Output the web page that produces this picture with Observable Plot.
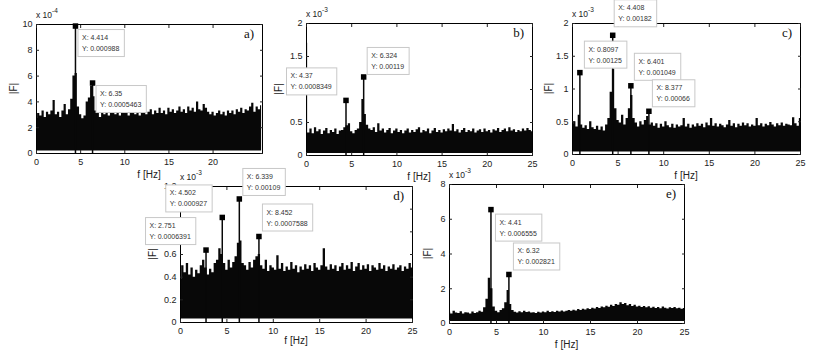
<!DOCTYPE html>
<html><head><meta charset="utf-8">
<script src="https://cdn.jsdelivr.net/npm/d3@7"></script>
<script src="https://cdn.jsdelivr.net/npm/@observablehq/plot@0.6"></script>
<style>
body{margin:0;background:#fff}
#fig{position:relative;width:815px;height:357px;overflow:hidden;background:#fff}
#fig svg{position:absolute;overflow:visible}
</style>
</head><body><div id="fig"></div>
<script>
// Frequency grid step of the envelope readings (Hz)
const fStep = 0.25;

// ---- panel a (x 10^-4) ----
const aEnv = [2.7,3.1,2.9,3.3, 2.8,3.2,3.0,3.3, 4.1,3.0,3.2,2.8, 3.3,3.8,3.0,3.4,
  4.2,6.0,6.2,3.6, 3.0,2.7,2.9,4.0, 4.3,5.2,4.4,3.3, 3.1,2.8,3.2,3.0, 3.3,2.9,3.1,3.4,
  3.0,3.2,2.9,3.6, 3.1,3.3,2.9,3.4, 3.2,3.0,3.3,2.9, 3.1,3.5,3.0,3.2, 3.4,3.0,3.3,3.1,
  3.5,3.1,3.3,3.0, 3.5,3.2,3.4,3.1, 3.3,3.6,3.2,3.4, 3.1,3.6,3.3,3.5, 3.2,4.0,3.4,3.3,
  3.8,3.5,3.2,3.0, 3.2,2.9,3.1,3.3, 3.0,3.2,2.9,3.3, 3.1,3.3,3.0,3.4, 3.2,3.5,3.1,3.4,
  3.3,3.6,3.9,3.2, 3.6,3.4,3.7];
const aFloor = 0.2;
const aPeakF = [4.414, 6.35];
const aPeakV = [0.000988, 0.0005463];

// ---- panel b (x 10^-3) ----
const bEnv = [1.7,0.34,0.40,0.33, 0.42,0.36,0.39,0.32, 0.37,0.41,0.33,0.38, 0.35,0.40,0.32,0.37,
  0.38,0.42,0.45,0.48, 0.36,0.33,0.38,0.40, 0.50,0.85,0.62,0.46, 0.40,0.38,0.42,0.35,
  0.48,0.37,0.40,0.34, 0.38,0.41,0.33,0.37, 0.40,0.35,0.38,0.33, 0.37,0.40,0.34,0.38,
  0.35,0.39,0.42,0.34, 0.38,0.36,0.40,0.33, 0.37,0.41,0.35,0.38, 0.34,0.39,0.36,0.40,
  0.37,0.47,0.36,0.39, 0.34,0.38,0.41,0.35, 0.38,0.36,0.40,0.34, 0.37,0.39,0.35,0.40,
  0.36,0.38,0.34,0.39, 0.37,0.41,0.35,0.38, 0.40,0.36,0.42,0.37, 0.39,0.35,0.38,0.36,
  0.40,0.37,0.41,0.38, 0.36];
const bFloor = 0.03;
const bPeakF = [4.37, 6.324];
const bPeakV = [0.0008349, 0.00119];

// ---- panel c (x 10^-3) ----
const cEnv = [0.46,0.50,0.42,0.60, 0.45,0.40,0.44,0.38, 0.50,0.41,0.38,0.43, 0.37,0.42,0.36,0.45,
  0.55,0.95,1.30,0.70, 0.52,0.48,0.60,0.45, 0.55,0.70,0.90,0.55, 0.48,0.42,0.50,0.45,
  0.52,0.58,0.45,0.48, 0.43,0.47,0.40,0.46, 0.42,0.50,0.44,0.41, 0.46,0.40,0.45,0.42,
  0.44,0.55,0.42,0.46, 0.40,0.45,0.42,0.47, 0.43,0.46,0.41,0.48, 0.44,0.55,0.43,0.47,
  0.42,0.46,0.44,0.41, 0.45,0.52,0.43,0.47, 0.41,0.46,0.43,0.48, 0.44,0.47,0.42,0.45,
  0.43,0.55,0.44,0.47, 0.42,0.46,0.44,0.49, 0.45,0.42,0.47,0.44, 0.48,0.43,0.46,0.45,
  0.44,0.56,0.47,0.43, 0.55];
const cFloor = 0.04;
const cPeakF = [0.8097, 4.408, 6.401, 8.377];
const cPeakV = [0.00125, 0.00182, 0.001049, 0.00066];

// ---- panel d (x 10^-3) ----
const dEnv = [0.38,0.50,0.44,0.52, 0.42,0.48,0.40,0.46, 0.43,0.50,0.55,0.48, 0.42,0.47,0.44,0.52,
  0.55,0.65,0.60,0.52, 0.46,0.55,0.48,0.53, 0.58,0.70,0.72,0.52, 0.50,0.46,0.53,0.48,
  0.55,0.58,0.60,0.50, 0.47,0.55,0.45,0.50, 0.48,0.46,0.59,0.47, 0.52,0.45,0.49,0.46,
  0.53,0.47,0.50,0.44, 0.49,0.46,0.51,0.47, 0.50,0.45,0.52,0.48, 0.46,0.50,0.65,0.49,
  0.46,0.51,0.47,0.50, 0.45,0.49,0.52,0.46, 0.50,0.47,0.53,0.45, 0.49,0.52,0.46,0.50,
  0.47,0.51,0.45,0.50, 0.48,0.46,0.52,0.47, 0.50,0.45,0.49,0.47, 0.51,0.46,0.48,0.50,
  0.45,0.49,0.47,0.52, 0.48];
const dFloor = 0.03;
const dPeakF = [2.751, 4.502, 6.339, 8.452];
const dPeakV = [0.0006391, 0.000927, 0.00109, 0.0007588];

// ---- panel e (x 10^-3) ----
const eEnv = [0.65,0.55,0.70,0.60, 0.58,0.68,0.55,0.62, 0.60,0.55,0.66,0.58, 0.62,0.70,0.65,0.90,
  1.40,2.60,2.00,0.95, 0.70,0.62,0.75,0.85, 1.20,1.90,1.10,0.75, 0.65,0.60,0.68,0.62,
  0.70,0.64,0.66,0.60, 0.62,0.58,0.65,0.60, 0.66,0.62,0.70,0.64, 0.68,0.63,0.70,0.66,
  0.72,0.66,0.70,0.75, 0.70,0.76,0.72,0.80, 0.75,0.82,0.78,0.85, 0.80,0.88,0.84,0.92,
  0.86,0.95,0.90,1.00, 0.94,1.05,0.98,1.10, 1.05,1.20,1.10,1.15, 1.02,1.10,0.98,1.05,
  0.95,1.00,0.92,0.98, 0.90,0.96,0.88,0.94, 0.86,0.92,0.85,0.95, 0.88,0.84,0.90,0.86,
  0.92,0.85,0.88,0.82, 0.86];
const eFloor = 0.12;
const ePeakF = [4.41, 6.32];
const ePeakV = [0.006555, 0.002821];

// ---- axes (tick positions, and the tick labels left visible in the figure) ----
const xTicksA = [0,5,10,15,20];
const xTicks = [0,5,10,15,20,25];
const yTicksA = [0,2,4,6,8,10];
const yTicksBC = [0,0.5,1,1.5,2];
const yLabelsB = [0,0.5,1.5,2];          // "1" is hidden behind a data tip
const yTicksD = [0,0.2,0.4,0.6,0.8,1,1.2];
const yLabelsD = [0,0.2,0.4,0.6,1.2];    // "0.8" and "1" are hidden behind data tips
const yTicksE = [0,2,4,6,8];

const panels = [
  {name:"a)", env:aEnv, floor:aFloor, pf:aPeakF, pv:aPeakV, scale:1e-4, expo:"-4",
   xd:[0,25.6], yd:[0,10], xt:xTicksA, yt:yTicksA, yl:yTicksA,
   box:{left:36, top:24, w:226, h:129}, yLab:-23, xLab:25,
   offs:[[3,4],[4,3]]},
  {name:"b)", env:bEnv, floor:bFloor, pf:bPeakF, pv:bPeakV, scale:1e-3, expo:"-3",
   xd:[0,25], yd:[0,2], xt:xTicks, yt:yTicksBC, yl:yLabelsB,
   box:{left:306, top:23, w:226, h:132}, yLab:-28, xLab:25,
   offs:[[-59,-32],[4,-29]]},
  {name:"c)", env:cEnv, floor:cFloor, pf:cPeakF, pv:cPeakV, scale:1e-3, expo:"-3",
   xd:[0,25], yd:[0,2], xt:xTicks, yt:yTicksBC, yl:yTicksBC,
   box:{left:572, top:23, w:228, h:131}, yLab:-24, xLab:25,
   offs:[[5,-31],[2,-35],[4,-32],[4,-31]]},
  {name:"d)", env:dEnv, floor:dFloor, pf:dPeakF, pv:dPeakV, scale:1e-3, expo:"-3",
   xd:[0,25], yd:[0,1.2], xt:xTicks, yt:yTicksD, yl:yLabelsD,
   box:{left:180, top:186, w:232, h:136}, yLab:-28, xLab:22,
   offs:[[-60,-32],[-56,-32],[4,-30],[4,-32]]},
  {name:"e)", env:eEnv, floor:eFloor, pf:ePeakF, pv:ePeakV, scale:1e-3, expo:"-3",
   xd:[0,25], yd:[0,8], xt:xTicks, yt:yTicksE, yl:yTicksE,
   box:{left:449, top:184, w:235, h:139}, yLab:-22, xLab:25,
   offs:[[5,5],[5,-31]]}
];

const M = {top:30, right:20, bottom:35, left:40};
const fig = document.getElementById("fig");
const fmt = d3.format("~g");
const sans = "'Liberation Sans', Arial, sans-serif";

for (const p of panels) {
  const series = p.env.map((v, i) => ({f: i * fStep, v}));
  const peaks = p.pf.map((f, i) => ({f, v: p.pv[i] / p.scale, fx: f, vy: p.pv[i]}));
  const {left, top, w, h} = p.box;
  const plot = Plot.plot({
    width: w + M.left + M.right, height: h + M.top + M.bottom,
    marginTop: M.top, marginRight: M.right, marginBottom: M.bottom, marginLeft: M.left,
    style: {background: "transparent", overflow: "visible", fontFamily: sans, fontSize: "9px", color: "#222"},
    x: {domain: p.xd},
    y: {domain: p.yd},
    marks: [
      Plot.areaY(series, {x: "f", y1: p.floor, y2: "v", fill: "#080808", curve: "step"}),
      Plot.ruleX(peaks, {x: "f", y1: 0, y2: "v", stroke: "#080808", strokeWidth: 1.5}),
      Plot.frame({stroke: "#000", strokeWidth: 1}),
      Plot.axisX(p.xt, {anchor: "bottom", tickSize: 0, tickPadding: 5, tickFormat: fmt, label: null}),
      Plot.axisX(p.xt, {anchor: "bottom", tickSize: -3, tickFormat: () => "", label: null}),
      Plot.axisX(p.xt, {anchor: "top", tickSize: -3, tickFormat: () => "", label: null}),
      Plot.axisY(p.yl, {anchor: "left", tickSize: 0, tickPadding: 4, tickFormat: fmt, label: null}),
      Plot.axisY(p.yt, {anchor: "left", tickSize: -3, tickFormat: () => "", label: null}),
      Plot.axisY(p.yt, {anchor: "right", tickSize: -3, tickFormat: () => "", label: null}),
      Plot.dot(peaks, {x: "f", y: "v", symbol: "square", r: 3.1, fill: "#000", stroke: "none"})
    ]
  });
  plot.style.left = (left - M.left) + "px";
  plot.style.top = (top - M.top) + "px";
  fig.appendChild(plot);

  const sx = plot.scale("x"), sy = plot.scale("y");
  const svg = d3.select(plot);
  const g = svg.append("g").attr("font-family", sans).attr("text-anchor", "start");

  // exponent label
  const ex = g.append("text").attr("x", M.left).attr("y", M.top - 6)
    .attr("text-anchor", "start").attr("font-size", 8.5).attr("fill", "#222");
  ex.append("tspan").text("x 10");
  ex.append("tspan").attr("dy", -5).attr("font-size", 6.5).text(p.expo);

  // axis labels
  g.append("text").attr("x", M.left + w / 2).attr("y", M.top + h + p.xLab)
    .attr("text-anchor", "middle").attr("font-size", 10).attr("fill", "#222").text("f [Hz]");
  g.append("text").attr("transform", `translate(${M.left + p.yLab},${M.top + h / 2}) rotate(-90)`)
    .attr("text-anchor", "middle").attr("dy", "0.35em").attr("font-size", 10).attr("fill", "#222").text("|F|");

  // panel letter
  g.append("text").attr("x", M.left + w - 8).attr("y", M.top + 14)
    .attr("text-anchor", "end").attr("font-family", "'Liberation Serif', 'Times New Roman', serif")
    .attr("font-size", 13).attr("fill", "#111").text(p.name);

  // data tips
  peaks.forEach((pk, i) => {
    const [dx, dy] = p.offs[i];
    const px = sx.apply(pk.f), py = sy.apply(pk.v);
    const tg = g.append("g").attr("transform", `translate(${px + dx},${py + dy})`);
    const rect = tg.append("rect").attr("fill", "#fff").attr("stroke", "#c8c8c8").attr("stroke-width", 1);
    const t1 = tg.append("text").attr("x", 4).attr("y", 10.5).attr("text-anchor", "start")
      .attr("font-size", 7).attr("fill", "#333").text("X: " + String(pk.fx));
    const t2 = tg.append("text").attr("x", 4).attr("y", 21.5).attr("text-anchor", "start")
      .attr("font-size", 7).attr("fill", "#333").text("Y: " + String(pk.vy));
    const tw = Math.max(t1.node().getComputedTextLength(), t2.node().getComputedTextLength());
    rect.attr("width", tw + 9).attr("height", 27);
  });
}
</script>
</body></html>
